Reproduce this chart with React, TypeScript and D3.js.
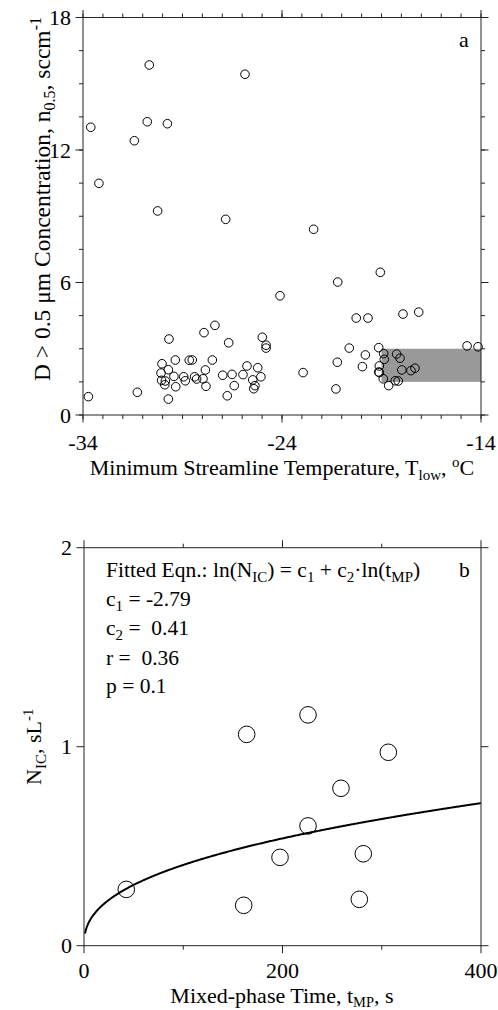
import React from "react";
import * as d3 from "d3";

// Panel a data: minimum streamline temperature (°C) vs n0.5 (sccm^-1)
const tLow = [
  -33.61, -33.2, -31.42, -30.77, -30.67, -29.76, -30.25, -26.83, -25.86, -22.41,
  -24.1, -21.2, -19.06, -20.27, -19.68, -17.92, -17.13, -27.37, -27.92, -29.68,
  -26.68, -24.99, -24.8, -24.8, -30.03, -29.36, -28.66, -28.51, -27.5, -29.71,
  -30.08, -27.85, -29.43, -28.94, -28.86, -28.39, -28.29, -27.97, -26.98, -26.51,
  -25.96, -25.76, -25.22, -25.06, -25.47, -30.05, -29.86, -29.89, -29.34, -27.82,
  -26.4, -25.36, -25.42, -26.75, -29.71, -31.27, -33.73, -20.62, -19.14, -19.81,
  -18.89, -18.86, -18.24, -18.07, -21.22, -19.96, -19.11, -19.14, -19.11, -17.98,
  -17.52, -17.32, -18.91, -18.31, -18.16, -18.64, -21.29, -22.94, -14.7, -14.15,
];
const n05 = [
  13.03, 10.49, 12.42, 13.28, 15.85, 13.19, 9.24, 8.86, 15.43, 8.41,
  5.4, 6.02, 6.46, 4.39, 4.39, 4.57, 4.66, 4.06, 3.73, 3.44,
  3.27, 3.52, 3.16, 3.03, 2.32, 2.49, 2.48, 2.49, 2.49, 2.05,
  1.9, 2.04, 1.75, 1.73, 1.55, 1.73, 1.63, 1.64, 1.8, 1.84,
  1.83, 2.22, 2.14, 1.73, 1.59, 1.57, 1.54, 1.37, 1.28, 1.3,
  1.33, 1.33, 1.19, 0.87, 0.72, 1.03, 0.83, 3.03, 3.05, 2.72,
  2.78, 2.52, 2.76, 2.57, 2.39, 2.19, 2.22, 1.95, 1.92, 2.04,
  2.01, 2.12, 1.64, 1.55, 1.54, 1.33, 1.18, 1.92, 3.13, 3.09,
];
// shaded band (x range, y range)
const bandX = [-19, -14];
const bandY = [1.5, 3];

const aXMajor = [-34, -24, -14];
const aXMinor = d3.range(-34, -13.5, 1);
const aYMajor = [0, 6, 12, 18];
const aYMinor = d3.range(0, 18.01, 1.5);

// Panel b data: mixed-phase time (s) vs N_IC (sL^-1)
const tMP = [163.9, 306.6, 258.9, 225.7, 197.5, 281.4, 42.6, 160.9, 277.4, 225.7];
const nIC = [1.062, 0.972, 0.791, 0.602, 0.444, 0.462, 0.283, 0.203, 0.233, 1.16];
const c1 = -2.79;
const c2 = 0.41;
const bXMajor = [0, 200, 400];
const bXMinor = [100, 300];
const bYMajor = [0, 1, 2];

const FONT = "'Liberation Serif', 'Times New Roman', serif";
const FS = 22;
const SUB = 15;

function Frame({ xs, ys, xMajor, xMinor, yMajor, yMinor, xLabels, yLabels, labelOff }: any) {
  const [x0, x1] = xs.range();
  const [y0, y1] = ys.range(); // y0 bottom, y1 top
  const L = 7.5;
  const S = 4;
  const items: any[] = [];
  items.push(<rect key="frame" x={x0} y={y1} width={x1 - x0} height={y0 - y1} fill="none" stroke="#222" strokeWidth={1} />);
  xMinor.forEach((v: number, i: number) => {
    const px = xs(v);
    items.push(<line key={"xmb" + i} x1={px} x2={px} y1={y0} y2={y0 + S} stroke="#222" />);
    items.push(<line key={"xmt" + i} x1={px} x2={px} y1={y1} y2={y1 - S} stroke="#222" />);
  });
  xMajor.forEach((v: number, i: number) => {
    const px = xs(v);
    items.push(<line key={"xMb" + i} x1={px} x2={px} y1={y0} y2={y0 + L} stroke="#222" />);
    items.push(<line key={"xMt" + i} x1={px} x2={px} y1={y1} y2={y1 - L} stroke="#222" />);
  });
  yMinor.forEach((v: number, i: number) => {
    const py = ys(v);
    items.push(<line key={"yml" + i} x1={x0} x2={x0 - S} y1={py} y2={py} stroke="#222" />);
    items.push(<line key={"ymr" + i} x1={x1} x2={x1 + S} y1={py} y2={py} stroke="#222" />);
  });
  yMajor.forEach((v: number, i: number) => {
    const py = ys(v);
    items.push(<line key={"yMl" + i} x1={x0} x2={x0 - L} y1={py} y2={py} stroke="#222" />);
    items.push(<line key={"yMr" + i} x1={x1} x2={x1 + L} y1={py} y2={py} stroke="#222" />);
  });
  xMajor.forEach((v: number, i: number) => {
    items.push(
      <text key={"xl" + i} x={xs(v)} y={y0 + labelOff} textAnchor="middle" fontSize={FS} fontFamily={FONT}>
        {xLabels(v)}
      </text>
    );
  });
  yMajor.forEach((v: number, i: number) => {
    items.push(
      <text key={"yl" + i} x={x0 - 12} y={ys(v) + 7.5} textAnchor="end" fontSize={FS} fontFamily={FONT}>
        {yLabels(v)}
      </text>
    );
  });
  return <g>{items}</g>;
}

export default function App() {
  const xa = d3.scaleLinear().domain([-34, -14]).range([83, 481]);
  const ya = d3.scaleLinear().domain([0, 18]).range([415, 17.5]);
  const xb = d3.scaleLinear().domain([0, 400]).range([84, 481]);
  const yb = d3.scaleLinear().domain([0, 2]).range([945.7, 547.7]);

  const fitT = d3.range(1, 401, 1);
  const fitLine = d3
    .line<number>()
    .x((t) => xb(t))
    .y((t) => yb(Math.exp(c1 + c2 * Math.log(t))))(fitT) as string;

  const sub = { fontSize: SUB };
  const NB = "\u00A0";
  return (
    <svg
      width={498}
      height={1010}
      style={{ position: "absolute", left: 0, top: 0, background: "#fff" }}
      fontFamily={FONT}
    >
      <rect x={0} y={0} width={498} height={1010} fill="#fff" />
      {/* Panel a */}
      <rect
        x={xa(bandX[0])}
        y={ya(bandY[1])}
        width={xa(bandX[1]) - xa(bandX[0])}
        height={ya(bandY[0]) - ya(bandY[1])}
        fill="#999999"
      />
      {tLow.map((t, i) => (
        <circle key={"a" + i} cx={xa(t)} cy={ya(n05[i])} r={4.3} fill="none" stroke="#000" strokeWidth={1} />
      ))}
      <Frame
        xs={xa}
        ys={ya}
        xMajor={aXMajor}
        xMinor={aXMinor}
        yMajor={aYMajor}
        yMinor={aYMinor}
        labelOff={35}
        xLabels={(v: number) => String(v)}
        yLabels={(v: number) => String(v)}
      />
      <text x={459} y={47} fontSize={FS}>a</text>
      <text x={282} y={475} textAnchor="middle" fontSize={FS}>
        Minimum Streamline Temperature, T
        <tspan {...sub} dy={5}>low</tspan>
        <tspan dy={-5}>, </tspan>
        <tspan {...sub} dy={-8}>o</tspan>
        <tspan dy={8}>C</tspan>
      </text>
      <text transform={`translate(50,199) rotate(-90)`} textAnchor="middle" fontSize={23.5}>
        D &gt; 0.5 μm Concentration, n
        <tspan fontSize={16} dy={5}>0.5</tspan>
        <tspan dy={-5}>, sccm</tspan>
        <tspan fontSize={16} dy={-9}>-1</tspan>
      </text>

      {/* Panel b */}
      <path d={fitLine} fill="none" stroke="#000" strokeWidth={2} />
      {tMP.map((t, i) => (
        <circle key={"b" + i} cx={xb(t)} cy={yb(nIC[i])} r={8.3} fill="none" stroke="#000" strokeWidth={1} />
      ))}
      <Frame
        xs={xb}
        ys={yb}
        xMajor={bXMajor}
        xMinor={bXMinor}
        yMajor={bYMajor}
        yMinor={[]}
        labelOff={32.5}
        xLabels={(v: number) => String(v)}
        yLabels={(v: number) => String(v)}
      />
      <g fontSize={21.5}>
        <text x={106} y={577}>
          Fitted Eqn.: ln(N<tspan {...sub} dy={5}>IC</tspan>
          <tspan dy={-5}>) = c</tspan>
          <tspan {...sub} dy={5}>1</tspan>
          <tspan dy={-5}>{NB}+ c</tspan>
          <tspan {...sub} dy={5}>2</tspan>
          <tspan dy={-5}>·ln(t</tspan>
          <tspan {...sub} dy={5}>MP</tspan>
          <tspan dy={-5}>)</tspan>
        </text>
        <text x={459} y={577}>b</text>
        <text x={106} y={606}>
          c<tspan {...sub} dy={5}>1</tspan>
          <tspan dy={-5}>{NB + "= -2.79"}</tspan>
        </text>
        <text x={106} y={635}>
          c<tspan {...sub} dy={5}>2</tspan>
          <tspan dy={-5}>{NB + "=" + NB + NB + "0.41"}</tspan>
        </text>
        <text x={106} y={665}>{"r =" + NB + NB + "0.36"}</text>
        <text x={106} y={693}>{"p = 0.1"}</text>
      </g>
      <text x={282} y={1003} textAnchor="middle" fontSize={FS}>
        Mixed-phase Time, t<tspan fontSize={14.5} dy={3.5}>MP</tspan>
        <tspan dy={-3.5}>, s</tspan>
      </text>
      <text transform={`translate(41,746.7) rotate(-90)`} textAnchor="middle" fontSize={FS}>
        N<tspan {...sub} dy={5}>IC</tspan>
        <tspan dy={-5}>, sL</tspan>
        <tspan {...sub} dy={-8}>-1</tspan>
      </text>
    </svg>
  );
}
